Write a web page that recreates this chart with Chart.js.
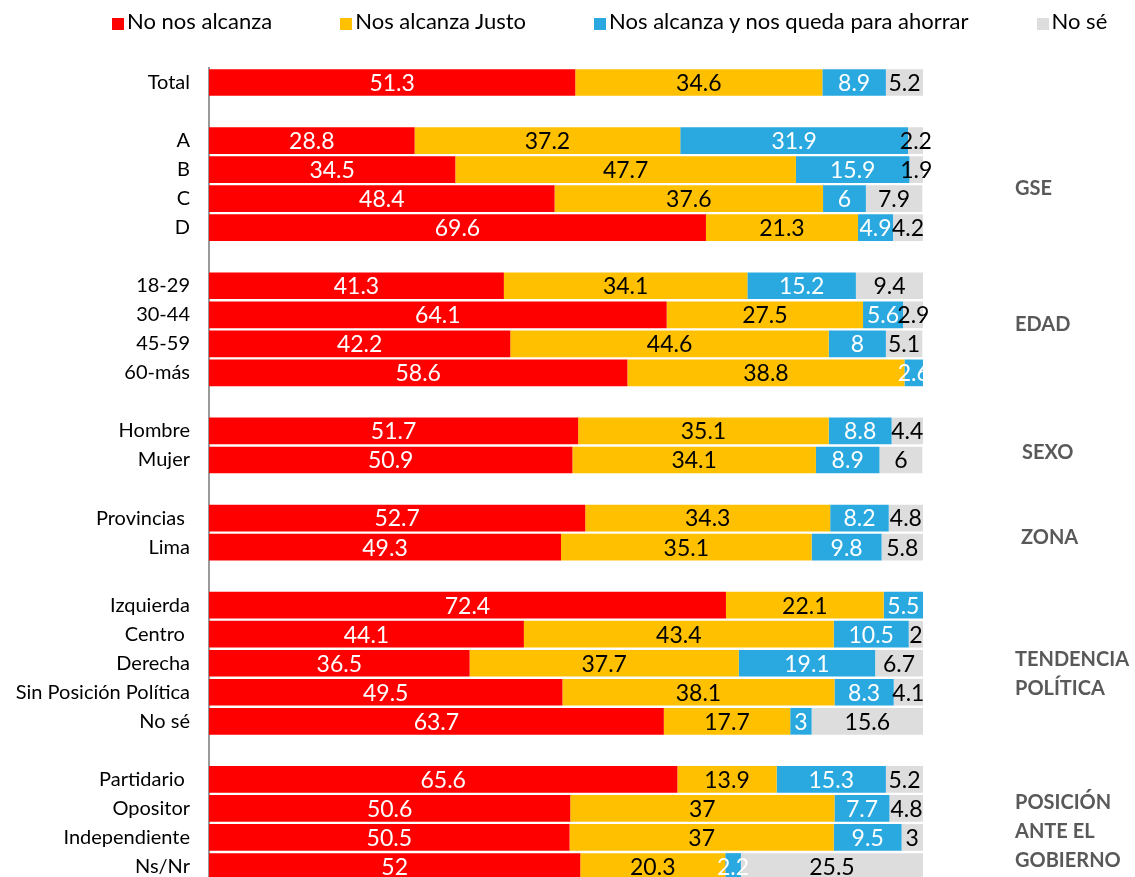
<!DOCTYPE html>
<html>
<head>
<meta charset="utf-8">
<script src="https://cdn.jsdelivr.net/npm/chart.js@4/dist/chart.umd.min.js"></script>
<style>
  html, body { margin: 0; padding: 0; background: #fff; overflow: hidden; }
  #wrap { position: relative; width: 1135px; height: 877px; overflow: hidden; }
  #legend { position: absolute; top: 7px; left: 112px; display: flex; gap: 68px;
            font: 22px Lato, sans-serif; color: #000; white-space: nowrap; }
  #legend span.box { display: inline-block; width: 12px; height: 12px; margin-right: 3px; vertical-align: -1px; }
</style>
</head>
<body>
<div id="wrap">
  <div id="legend"></div>
  <canvas id="chart" width="1135" height="912"></canvas>
</div>
<script>
// categories ('' = blank spacer row between groups)
const categories = [
  'Total', '',
  'A', 'B', 'C', 'D', '',
  '18-29', '30-44', '45-59', '60-más', '',
  'Hombre', 'Mujer', '',
  'Provincias ', 'Lima', '',
  'Izquierda', 'Centro ', 'Derecha', 'Sin Posición Política', 'No sé', '',
  'Partidario ', 'Opositor', 'Independiente', 'Ns/Nr'
];

const seriesNames = ['No nos alcanza', 'Nos alcanza Justo', 'Nos alcanza y nos queda para ahorrar', 'No sé'];

const noAlcanza = [51.3, null, 28.8, 34.5, 48.4, 69.6, null, 41.3, 64.1, 42.2, 58.6, null,
  51.7, 50.9, null, 52.7, 49.3, null, 72.4, 44.1, 36.5, 49.5, 63.7, null, 65.6, 50.6, 50.5, 52];
const alcanzaJusto = [34.6, null, 37.2, 47.7, 37.6, 21.3, null, 34.1, 27.5, 44.6, 38.8, null,
  35.1, 34.1, null, 34.3, 35.1, null, 22.1, 43.4, 37.7, 38.1, 17.7, null, 13.9, 37, 37, 20.3];
const alcanzaAhorrar = [8.9, null, 31.9, 15.9, 6, 4.9, null, 15.2, 5.6, 8, 2.6, null,
  8.8, 8.9, null, 8.2, 9.8, null, 5.5, 10.5, 19.1, 8.3, 3, null, 15.3, 7.7, 9.5, 2.2];
const noSe = [5.2, null, 2.2, 1.9, 7.9, 4.2, null, 9.4, 2.9, 5.1, null, null,
  4.4, 6, null, 4.8, 5.8, null, null, 2, 6.7, 4.1, 15.6, null, 5.2, 4.8, 3, 25.5];

// group titles on the right, with the first/last row index of each group
const groupTitles = [['GSE'], ['EDAD'], ['SEXO'], ['ZONA'], ['TENDENCIA', 'POLÍTICA'], ['POSICIÓN', 'ANTE EL', 'GOBIERNO']];
const groupRows = [[2, 5], [7, 10], [12, 13], [15, 16], [18, 22], [24, 27]];
// small vertical nudges / indents so the titles sit like the original text boxes
const groupNudge = [4, -5, 7, 5, 11, 9];
const groupIndent = [0, 0, 7, 6, 0, 0];

const colors = ['#FF0000', '#FFC000', '#29A9E0', '#DDDDDD'];
const labelColors = ['#ffffff', '#000000', '#ffffff', '#000000'];

// html legend
const legendEl = document.getElementById('legend');
seriesNames.forEach((name, i) => {
  const item = document.createElement('div');
  item.innerHTML = '<span class="box" style="background:' + colors[i] + '"></span>' + name;
  legendEl.appendChild(item);
});

// value labels centered in each segment
const valueLabels = {
  id: 'valueLabels',
  afterDatasetsDraw(chart) {
    const ctx = chart.ctx;
    ctx.save();
    ctx.font = '23px Lato';
    ctx.textAlign = 'center';
    ctx.textBaseline = 'middle';
    chart.data.datasets.forEach((ds, i) => {
      const meta = chart.getDatasetMeta(i);
      meta.data.forEach((bar, j) => {
        const v = ds.data[j];
        if (v == null) return;
        ctx.fillStyle = labelColors[i];
        ctx.fillText(String(v), (bar.x + bar.base) / 2, bar.y + 1);
      });
    });
    ctx.restore();
  }
};

// group titles at the right side
const groupLabels = {
  id: 'groupLabels',
  afterDraw(chart) {
    const ctx = chart.ctx;
    const y = chart.scales.y;
    const x = chart.chartArea.right + 92;
    ctx.save();
    ctx.font = 'bold 20px Lato';
    ctx.fillStyle = '#595959';
    ctx.textAlign = 'left';
    ctx.textBaseline = 'middle';
    groupTitles.forEach((lines, g) => {
      const mid = (y.getPixelForValue(groupRows[g][0]) + y.getPixelForValue(groupRows[g][1])) / 2 + groupNudge[g];
      const lh = 29;
      const top = mid - (lines.length - 1) * lh / 2;
      lines.forEach((t, k) => ctx.fillText(t, x + groupIndent[g], top + k * lh));
    });
    ctx.restore();
  }
};

const data = [noAlcanza, alcanzaJusto, alcanzaAhorrar, noSe];

new Chart(document.getElementById('chart'), {
  type: 'bar',
  data: {
    labels: categories,
    datasets: data.map((d, i) => ({
      label: seriesNames[i],
      data: d,
      backgroundColor: colors[i],
      borderWidth: 0,
      barPercentage: 0.92,
      categoryPercentage: 1
    }))
  },
  options: {
    indexAxis: 'y',
    responsive: false,
    animation: false,
    plugins: {
      legend: { display: false },
      tooltip: { enabled: false }
    },
    layout: {
      padding: { left: 0, right: 212, top: 68, bottom: 18.5 }
    },
    scales: {
      x: {
        stacked: true,
        display: false,
        min: 0,
        max: 100
      },
      y: {
        stacked: true,
        grid: { display: false, drawTicks: false },
        border: { display: true, color: '#9a9a9a', width: 2 },
        ticks: {
          color: '#000',
          font: { family: 'Lato', size: 20 },
          padding: 19,
          autoSkip: false
        },
        afterFit(scale) { scale.width = 209; }
      }
    }
  },
  plugins: [valueLabels, groupLabels]
});
</script>
</body>
</html>
